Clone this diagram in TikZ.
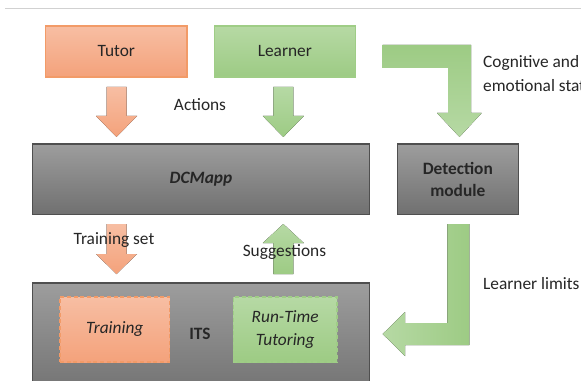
\documentclass[tikz,border=0pt]{standalone}
\usepackage{fontspec}
\setmainfont{Carlito}
\usetikzlibrary{positioning}

\definecolor{tutortop}{HTML}{F7BEA3}
\definecolor{tutorbot}{HTML}{F4A27B}
\definecolor{tutorline}{HTML}{F29B68}
\definecolor{learntop}{HTML}{B6D9A4}
\definecolor{learnbot}{HTML}{9DCB84}
\definecolor{learnline}{HTML}{9FCD86}
\definecolor{greytop}{HTML}{9D9D9D}
\definecolor{greybot}{HTML}{707070}
\definecolor{greyline}{HTML}{4F4F4F}

\begin{document}
\begin{tikzpicture}[x=0.75pt,y=-0.75pt,
    txt/.style={font=\fontsize{13}{16}\selectfont, text=black!85},
    orangebox/.style={txt, draw=tutorline, line width=0.8pt,
        top color=tutortop, bottom color=tutorbot},
    greenbox/.style={txt, draw=learnline, line width=0.8pt,
        top color=learntop, bottom color=learnbot},
    greybox/.style={txt, draw=greyline, line width=1pt,
        top color=greytop, bottom color=greybot},
    dashbox/.style={dash pattern=on 3pt off 2pt, line width=1.1pt},
    orangearrow/.style={top color=tutortop, bottom color=tutorbot},
    greenarrow/.style={top color=learntop, bottom color=learnbot}]
    \useasboundingbox (0,0) rectangle (581,381);
    \clip (0,0) rectangle (581,381);
    \fill [white] (0,0) rectangle (581,381);
    \draw [black!18, line width=0.75pt] (5,9) -- (581,9);

    % top row
    \node [orangebox, minimum width=106pt, minimum height=38.25pt]
        (tutor) at (116.3,51.5) {Tutor};
    \node [greenbox, minimum width=106pt, minimum height=38.25pt]
        (learner) at (284.8,51.5) {Learner};

    % middle row
    \node [greybox, minimum width=253pt, minimum height=52.9pt]
        (dcmapp) at (201,179.3) {\bfseries\itshape DCMapp};
    \node [greybox, minimum width=90.75pt, minimum height=52.9pt,
        align=center, font=\fontsize{13}{16.3}\selectfont\bfseries]
        (detect) at (457.8,179.3) {Detection\\module};

    % bottom row
    \node [greybox, minimum width=253pt, minimum height=87.75pt]
        (its) at (201,341.5) {};
    \node [txt, font=\fontsize{13}{16}\selectfont\bfseries]
        (itslabel) at (200,334) {ITS};
    \node [orangebox, dashbox, minimum width=82.2pt,
        minimum height=48.75pt] (training) at (114.8,329.5) {\itshape Training};
    \node [greenbox, dashbox, minimum width=77.8pt,
        minimum height=48.75pt, align=center,
        font=\fontsize{13}{16.8}\selectfont\itshape]
        (runtime) at (285.2,329.5) {Run-Time\\Tutoring};

    % block arrows
    \fill [orangearrow] (106.5,87) -- (126.5,87) -- (126.5,116) -- (137,116)
        -- (116.5,137) -- (96,116) -- (106.5,116) -- cycle;
    \fill [greenarrow] (273.3,87) -- (293.3,87) -- (293.3,116) -- (303.8,116)
        -- (283.3,137) -- (262.8,116) -- (273.3,116) -- cycle;
    \fill [orangearrow] (106.5,224) -- (126.5,224) -- (126.5,254) -- (137,254)
        -- (116.5,274) -- (96,254) -- (106.5,254) -- cycle;
    \fill [greenarrow] (273.3,274) -- (293.3,274) -- (293.3,243) -- (303.8,243)
        -- (283.3,224) -- (262.8,243) -- (273.3,243) -- cycle;
    \fill [top color=learnbot, bottom color=learntop]
        (382.7,45) -- (471,45) -- (471,113) -- (481.7,113) -- (459.5,137)
        -- (437,113) -- (448,113) -- (448,68) -- (382.7,68) -- cycle;
    \fill [left color=learntop, right color=learnbot]
        (447.3,224) -- (469.3,224) -- (469.3,345) -- (405,345) -- (405,356)
        -- (382.7,334) -- (405,312) -- (405,323) -- (447.3,323) -- cycle;

    % labels
    \node [txt] (actions) at (200,105) {Actions};
    \node [txt, anchor=west] (cognitive) at (478.5,63) {Cognitive and};
    \node [txt, anchor=west] (emotional) at (478.5,85.5) {emotional states};
    \node [txt] (trainset) at (114,240) {Training set};
    \node [txt] (suggest) at (284.4,252) {Suggestions};
    \node [txt, anchor=west] (limits) at (478.5,284) {Learner limits};
\end{tikzpicture}
\end{document}
